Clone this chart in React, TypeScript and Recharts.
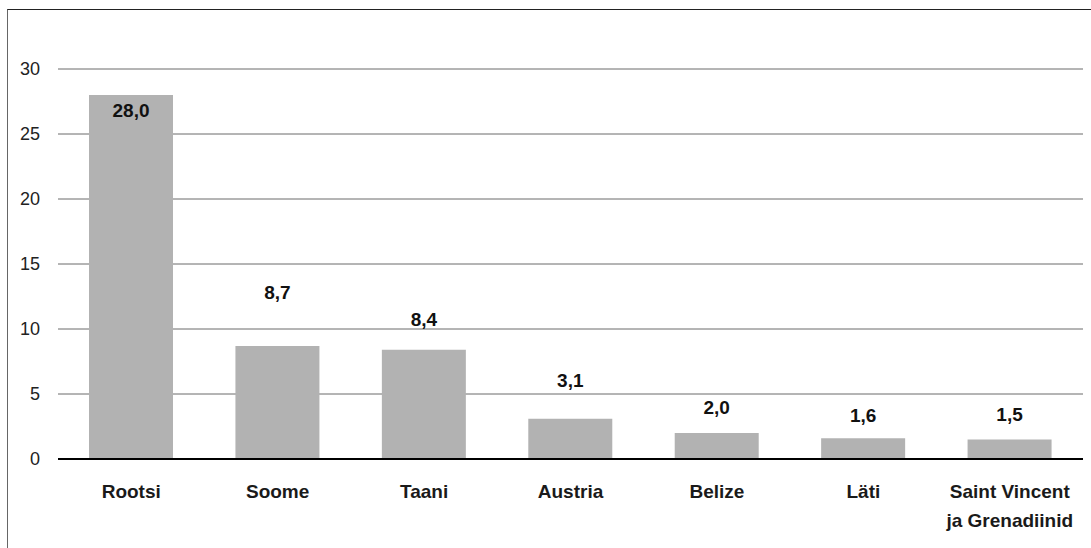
import { BarChart, Bar, XAxis, YAxis, CartesianGrid, LabelList } from 'recharts'

const countries = ['Rootsi', 'Soome', 'Taani', 'Austria', 'Belize', 'Läti', 'Saint Vincent\nja Grenadiinid']
const values = [28.0, 8.7, 8.4, 3.1, 2.0, 1.6, 1.5]
const yTicks = [0, 5, 10, 15, 20, 25, 30]

// how far (px) each value label sits above its bar top, as in the original
const labelLift = [-15, 54, 31, 39, 26, 23, 25]

const data = countries.map((name, i) => ({ name, value: values[i] }))

const FONT = '"Liberation Sans", Arial, sans-serif'

const CountryTick = (props: any) => {
  const { x, y, payload } = props
  const lines = String(payload.value).split('\n')
  return (
    <text x={x} y={y} textAnchor="middle" fontFamily={FONT} fontSize={19} fontWeight="bold" fill="#1a1a1a">
      {lines.map((line, i) => (
        <tspan key={i} x={x} dy={i === 0 ? 39 : 29}>
          {line}
        </tspan>
      ))}
    </text>
  )
}

const ValueLabel = (props: any) => {
  const { x, y, width, value, index } = props
  return (
    <text
      x={x + width / 2}
      y={y - labelLift[index]}
      dy="0.36em"
      textAnchor="middle"
      fontFamily={FONT}
      fontSize={19}
      fontWeight="bold"
      fill="#111"
    >
      {Number(value).toFixed(1).replace('.', ',')}
    </text>
  )
}

const App = () => {
  return (
    <div style={{ position: 'absolute', left: 0, top: 0, width: 1091, height: 548, overflow: 'hidden', background: '#fff' }}>
      <div
        style={{
          position: 'absolute',
          left: 7,
          top: 9,
          width: 1200,
          height: 700,
          borderTop: '1px solid #222',
          borderLeft: '1px solid #666',
        }}
      />
      <div style={{ position: 'absolute', left: 0, top: 0 }}>
        <BarChart width={1091} height={548} data={data} margin={{ top: 69, right: 8, bottom: 0, left: 0 }}>
          <CartesianGrid vertical={false} stroke="#6b6b6b" strokeWidth={1} />
          <XAxis
            dataKey="name"
            height={89}
            interval={0}
            tickLine={false}
            tickSize={0}
            tickMargin={0}
            axisLine={{ stroke: '#000', strokeWidth: 2 }}
            tick={<CountryTick />}
          />
          <YAxis
            domain={[0, 30]}
            ticks={yTicks}
            width={58}
            axisLine={false}
            tickLine={false}
            tickSize={6}
            tickMargin={12}
            tick={{ fontFamily: FONT, fontSize: 18, fill: '#222' }}
          />
          <Bar dataKey="value" fill="#b2b2b2" barSize={84} isAnimationActive={false}>
            <LabelList dataKey="value" content={<ValueLabel />} />
          </Bar>
        </BarChart>
      </div>
    </div>
  )
}

export default App
